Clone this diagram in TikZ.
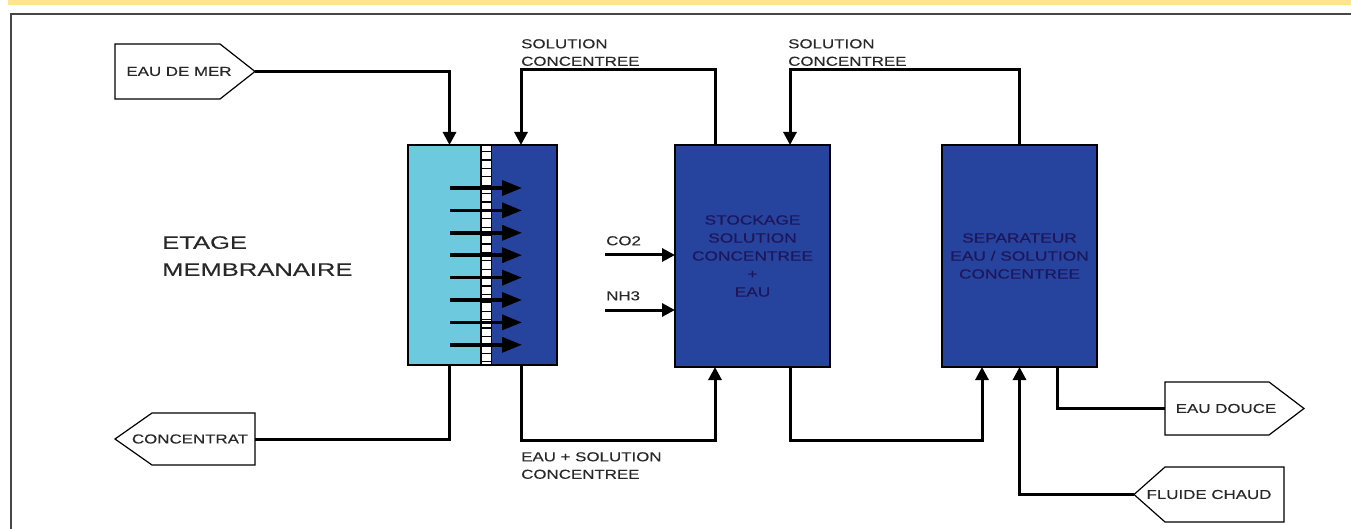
\documentclass[tikz,border=0pt]{standalone}
\usepackage{fontspec}
\setmainfont{Liberation Sans}
\newfontfamily\labfont[FakeStretch=1.3,FakeBold=0.3]{Liberation Sans}
\newfontfamily\bigfont[FakeStretch=1.42,FakeBold=0.2]{Liberation Sans}
\usetikzlibrary{arrows.meta}
\definecolor{band}{RGB}{255,229,140}
\definecolor{frameg}{RGB}{70,70,70}
\definecolor{cyanfill}{RGB}{108,201,222}
\definecolor{bluefill}{RGB}{38,68,158}
\definecolor{boxtext}{RGB}{30,22,90}
\definecolor{labtext}{RGB}{40,40,40}
\tikzset{
  flow/.style={line width=3pt},
  flowarrow/.style={line width=3pt,-{Triangle[length=13pt,width=13pt]}},
  memarrow/.style={line width=3.5pt,-{Triangle[length=20pt,width=15pt]}},
  block/.style={draw=black,line width=1.5pt,outer sep=0pt,inner sep=0pt,anchor=north west},
  unit/.style={block,fill=bluefill,minimum width=155pt,minimum height=222pt},
  lab/.style={font=\labfont\fontsize{13}{17.5}\selectfont,text=labtext,align=left,inner sep=0pt,anchor=north west},
  boxlab/.style={font=\labfont\fontsize{13.3}{18}\selectfont,text=boxtext,align=center},
  taglab/.style={font=\labfont\fontsize{13}{17}\selectfont,text=labtext,inner sep=0pt},
  tag/.style={draw=black,line width=1.2pt,fill=white},
}
\begin{document}
\begin{tikzpicture}[x=1pt,y=-1pt]
\useasboundingbox (0,0) rectangle (1351,529);
% page band and frame
\fill[band] (8,0) rectangle (1351,5);
\draw[frameg,line width=1.5pt] (11,529) -- (11,14) -- (1351,14);

% membrane stage
\node[block,fill=cyanfill,minimum width=73pt,minimum height=220pt] (memL) at (408,145) {};
\node[block,fill=bluefill,minimum width=66pt,minimum height=220pt] (memR) at (491,145) {};
\node[block,fill=white,line width=1pt,minimum width=10pt,minimum height=220pt] (memS) at (481,145) {};
\foreach \k in {0,...,25} {
  \fill[black] (481,{151+8.4*\k}) rectangle (491,{152.2+8.4*\k});
}
\draw[black,line width=1.5pt] (memL.north west) rectangle (memR.south east);
\foreach \k in {0,...,7} {
  \draw[memarrow] (450,{188+22.4*\k}) -- (522,{188+22.4*\k});
}

% process units
\node[unit,boxlab] (sto) at (675,145) {STOCKAGE\\SOLUTION\\CONCENTREE\\+\\EAU};
\node[unit,boxlab] (sep) at (942,145) {SEPARATEUR\\EAU / SOLUTION\\CONCENTREE};

% tags
\draw[tag] (115,44) -- (220,44) -- (255,71.5) coordinate (merTip) -- (220,99) -- (115,99) -- cycle;
\node[taglab] (mer) at (179,71.5) {EAU DE MER};
\draw[tag] (115,439) coordinate (concTipL) -- (152,413) -- (255,413) -- (255,439) coordinate (concTip) -- (255,465) -- (152,465) -- cycle;
\node[taglab] (conc) at (190,439) {CONCENTRAT};
\draw[tag] (1165,382) -- (1269,382) -- (1304,408.5) -- (1269,435) -- (1165,435) -- (1165,408.5) coordinate (doucTail) -- cycle;
\node[taglab] (douce) at (1226,408.5) {EAU DOUCE};
\draw[tag] (1134,494.5) coordinate (fluTip) -- (1165,467) -- (1284,467) -- (1284,522) -- (1165,522) -- cycle;
\node[taglab] (fluide) at (1209,494.5) {FLUIDE CHAUD};

% labels
\node[lab] (sc1) at (521,39) {SOLUTION\\CONCENTREE};
\node[lab] (sc2) at (788,39) {SOLUTION\\CONCENTREE};
\node[lab] (esc) at (521,452) {EAU + SOLUTION\\CONCENTREE};
\node[lab] (co2l) at (606,236) {CO2};
\node[lab] (nh3l) at (606,291) {NH3};
\node[font=\bigfont\fontsize{18}{27}\selectfont,text=labtext,align=left,inner sep=0pt,anchor=north west] (etage) at (162,236) {ETAGE\\MEMBRANAIRE};

% connectors
\coordinate (co2) at (605,255);
\coordinate (nh3) at (605,310);
\draw[flowarrow] (merTip) -| ([xshift=5pt]memL.north);
\draw[flow] ([xshift=5pt]memL.south) |- (concTip);
\draw[flowarrow] ([xshift=-37.5pt]sto.north) -- ++(0,-75) -| ([xshift=-3pt]memR.north);
\draw[flowarrow] (sep.north) -- ++(0,-75) -| ([xshift=37.5pt]sto.north);
\draw[flowarrow] ([xshift=-3pt]memR.south) -- ++(0,75) -| ([xshift=-37.5pt]sto.south);
\draw[flowarrow] ([xshift=37.5pt]sto.south) -- ++(0,73) -| ([xshift=-37.5pt]sep.south);
\draw[flowarrow] (co2) -- (co2 -| sto.west);
\draw[flowarrow] (nh3) -- (nh3 -| sto.west);
\draw[flow] ([xshift=37.5pt]sep.south) |- (doucTail);
\draw[flowarrow] (fluTip) -| (sep.south);
\end{tikzpicture}
\end{document}
